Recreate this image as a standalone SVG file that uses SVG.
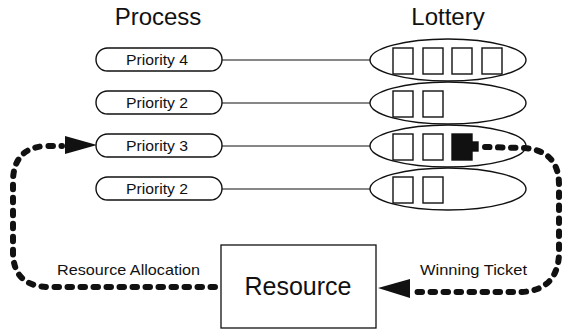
<svg xmlns="http://www.w3.org/2000/svg" width="567" height="331" viewBox="0 0 567 331">
  <style>
    .title { font-family: "Liberation Sans", Arial, sans-serif; font-size: 24px; fill: #111; text-anchor: middle; }
    .pill { fill: #fff; stroke: #111; stroke-width: 1.4; }
    .pill-label { font-family: "Liberation Sans", Arial, sans-serif; font-size: 15px; fill: #111; text-anchor: middle; }
    .pool { fill: #fff; stroke: #111; stroke-width: 1.4; }
    .ticket { fill: #fff; stroke: #111; stroke-width: 1.4; }
    .winner { fill: #111; stroke: #111; stroke-width: 1.4; }
    .link { fill: none; stroke: #111; stroke-width: 1.2; }
    .flow { fill: none; stroke: #111; stroke-width: 6; stroke-dasharray: 4.5 8.5; stroke-linecap: round; }
    .head { fill: #111; }
    .flow-label { font-family: "Liberation Sans", Arial, sans-serif; font-size: 14.5px; fill: #111; }
    .box { fill: #fff; stroke: #111; stroke-width: 1.3; }
    .box-label { font-family: "Liberation Sans", Arial, sans-serif; font-size: 25px; fill: #111; text-anchor: middle; }
  </style>

  <rect width="567" height="331" fill="#fff"/>

  <!-- column headings -->
  <text class="title" x="158" y="25">Process</text>
  <text class="title" x="448" y="25">Lottery</text>

  <!-- process-to-lottery links -->
  <g id="links">
    <line class="link" x1="222" y1="60" x2="370" y2="60"/>
    <line class="link" x1="222" y1="103" x2="370" y2="103"/>
    <line class="link" x1="222" y1="146" x2="370" y2="146"/>
    <line class="link" x1="222" y1="189" x2="370" y2="189"/>
  </g>

  <!-- processes -->
  <g id="process1">
    <rect class="pill" x="96" y="48" width="126" height="23" rx="11.5"/>
    <text class="pill-label" x="157" y="64.5" textLength="62" lengthAdjust="spacingAndGlyphs">Priority 4</text>
  </g>
  <g id="process2">
    <rect class="pill" x="96" y="91" width="126" height="23" rx="11.5"/>
    <text class="pill-label" x="157" y="107.5" textLength="62" lengthAdjust="spacingAndGlyphs">Priority 2</text>
  </g>
  <g id="process3">
    <rect class="pill" x="96" y="134" width="126" height="23" rx="11.5"/>
    <text class="pill-label" x="157" y="150.5" textLength="62" lengthAdjust="spacingAndGlyphs">Priority 3</text>
  </g>
  <g id="process4">
    <rect class="pill" x="96" y="177" width="126" height="23" rx="11.5"/>
    <text class="pill-label" x="157" y="193.5" textLength="62" lengthAdjust="spacingAndGlyphs">Priority 2</text>
  </g>

  <!-- ticket pools -->
  <g id="pool1">
    <ellipse class="pool" cx="448" cy="60" rx="78" ry="21"/>
    <rect class="ticket" x="393" y="48" width="20" height="26"/>
    <rect class="ticket" x="423" y="48" width="20" height="26"/>
    <rect class="ticket" x="452" y="48" width="20" height="26"/>
    <rect class="ticket" x="482" y="48" width="20" height="26"/>
  </g>
  <g id="pool2">
    <ellipse class="pool" cx="448" cy="103" rx="78" ry="21"/>
    <rect class="ticket" x="393" y="91" width="20" height="26"/>
    <rect class="ticket" x="423" y="91" width="20" height="26"/>
  </g>
  <g id="pool3">
    <ellipse class="pool" cx="448" cy="146" rx="78" ry="21"/>
    <rect class="ticket" x="393" y="134" width="20" height="26"/>
    <rect class="ticket" x="423" y="134" width="20" height="26"/>
    <rect class="winner" x="452" y="134" width="20" height="26"/>
    <rect class="winner" x="472" y="142" width="6" height="9"/>
  </g>
  <g id="pool4">
    <ellipse class="pool" cx="448" cy="189" rx="78" ry="21"/>
    <rect class="ticket" x="393" y="177" width="20" height="26"/>
    <rect class="ticket" x="423" y="177" width="20" height="26"/>
  </g>

  <!-- resource -->
  <g id="resource">
    <rect class="box" x="221" y="245" width="155" height="83"/>
    <text class="box-label" x="298" y="295">Resource</text>
  </g>

  <!-- allocation cycle -->
  <g id="connectors">
    <path class="flow" d="M 485 147 L 525 148 Q 559 151 559 185 L 559 255 Q 557 290 522 292 L 412 292"/>
    <polygon class="head" points="378,288 410,279 410,298"/>
    <path class="flow" d="M 215 287 L 48 287 Q 13 286 13 252 L 13 180 Q 14 148 45 146 L 62 146"/>
    <polygon class="head" points="97,145 65,136 65,154"/>
  </g>

  <!-- flow labels -->
  <text class="flow-label" x="57" y="275" textLength="143" lengthAdjust="spacingAndGlyphs">Resource Allocation</text>
  <text class="flow-label" x="420" y="275" textLength="107" lengthAdjust="spacingAndGlyphs">Winning Ticket</text>
</svg>
